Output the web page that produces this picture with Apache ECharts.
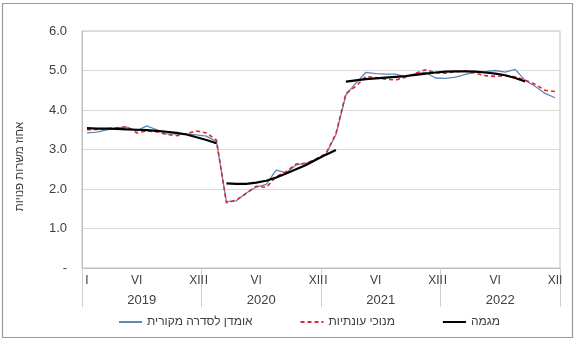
<!DOCTYPE html>
<html>
<head>
<meta charset="utf-8">
<script src="https://cdn.jsdelivr.net/npm/echarts@6/dist/echarts.min.js"></script>
<style>
  html, body { margin: 0; padding: 0; background: #ffffff; }
  #chart { width: 577px; height: 344px; }
</style>
</head>
<body>
<div id="chart"></div>
<script>
// Job vacancy rate, monthly 2019-2022
const years = ['2019', '2020', '2021', '2022'];
const months = ['I', 'II', 'III', 'IV', 'V', 'VI', 'VII', 'VIII', 'IX', 'X', 'XI', 'XII'];
const shownMonths = ['I', 'VI', 'XII'];
const yTicks = [0, 1, 2, 3, 4, 5, 6];

// Original series estimate
const original = [
  3.42, 3.44, 3.50, 3.55, 3.57, 3.47, 3.60, 3.50, 3.40, 3.39, 3.39, 3.37,
  3.34, 3.20, 1.68, 1.70, 1.90, 2.05, 2.12, 2.48, 2.41, 2.61, 2.65, 2.75,
  2.88, 3.38, 4.38, 4.68, 4.95, 4.92, 4.91, 4.91, 4.84, 4.92, 4.95, 4.81,
  4.80, 4.83, 4.90, 4.96, 4.97, 5.00, 4.96, 5.03, 4.75, 4.60, 4.42, 4.31
];

// Seasonally adjusted
const adjusted = [
  3.50, 3.51, 3.53, 3.55, 3.57, 3.42, 3.47, 3.45, 3.38, 3.35, 3.40, 3.47,
  3.42, 3.24, 1.65, 1.72, 1.89, 2.07, 2.04, 2.31, 2.44, 2.63, 2.65, 2.76,
  2.90, 3.40, 4.42, 4.60, 4.85, 4.82, 4.78, 4.76, 4.83, 4.93, 5.02, 4.94,
  4.93, 4.97, 4.99, 4.93, 4.87, 4.85, 4.87, 4.84, 4.76, 4.65, 4.50, 4.47
];

// Trend, drawn as separate segments
const trend = [
  3.54, 3.53, 3.53, 3.52, 3.51, 3.50, 3.49, 3.47, 3.45, 3.42, 3.38, 3.31,
  3.24, 3.16, 2.14, 2.13, 2.13, 2.16, 2.21, 2.29, 2.39, 2.50, 2.61, 2.74,
  2.87, 2.99, 4.72, 4.75, 4.78, 4.80, 4.82, 4.84, 4.86, 4.89, 4.92, 4.95,
  4.97, 4.98, 4.98, 4.97, 4.95, 4.92, 4.88, 4.81, 4.72, null, null, null
];
const trendSegments = [[0, 13], [14, 25], [26, 44]];

const names = ['אומדן לסדרה מקורית', 'מנוכי עונתיות', 'מגמה'];

const categories = [];
years.forEach(y => months.forEach(m => categories.push(m + '|' + y)));

const FONT = '"Liberation Sans", Arial, sans-serif';
const TEXT = '#404040';
const GRIDLINE = '#d9d9d9';

const trendSeries = trendSegments.map(([a, b]) => ({
  name: names[2],
  type: 'line',
  data: trend.map((v, i) => (i >= a && i <= b ? v : null)),
  showSymbol: false,
  symbol: 'none',
  connectNulls: false,
  lineStyle: { color: '#000000', width: 2.2 },
  itemStyle: { color: '#000000' },
  z: 4,
  silent: true
}));

const chart = echarts.init(document.getElementById('chart'), null, { renderer: 'canvas' });

chart.setOption({
  animation: false,
  backgroundColor: '#ffffff',
  textStyle: { fontFamily: FONT },
  grid: {
    left: 82, right: 17, top: 31, bottom: 76,
    show: true, borderColor: '#bfbfbf', borderWidth: 1
  },
  legend: {
    data: names,
    left: 118,
    top: 316,
    padding: 0,
    itemWidth: 23,
    itemHeight: 14,
    itemGap: 47,
    itemStyle: { opacity: 0 },
    textStyle: { fontFamily: FONT, fontSize: 12, color: TEXT },
    selectedMode: false
  },
  graphic: [{
    type: 'rect',
    shape: { x: 2.5, y: 3.5, width: 570, height: 334 },
    style: { fill: 'none', stroke: '#9a9a9a', lineWidth: 1.2 },
    silent: true,
    z: -1
  }],
  xAxis: [{
    type: 'category',
    data: categories,
    boundaryGap: true,
    axisLine: { show: true, lineStyle: { color: '#bfbfbf', width: 1 } },
    axisTick: { show: false },
    axisLabel: {
      interval: 0,
      margin: 7,
      fontFamily: FONT,
      fontSize: 12,
      color: TEXT,
      formatter: function (value) {
        const m = value.split('|')[0];
        return shownMonths.indexOf(m) >= 0 ? m : '';
      }
    },
    splitLine: { show: false }
  }, {
    type: 'category',
    data: years,
    position: 'bottom',
    boundaryGap: true,
    axisLine: { show: false },
    axisTick: { show: true, length: 39, lineStyle: { color: '#d0d0d0', width: 1 } },
    axisLabel: { margin: 26, fontFamily: FONT, fontSize: 13, color: TEXT },
    splitLine: { show: false }
  }],
  yAxis: {
    type: 'value',
    min: yTicks[0],
    max: yTicks[yTicks.length - 1],
    interval: 1,
    name: 'אחוז משרות פנויות',
    nameLocation: 'middle',
    nameGap: 56,
    nameTextStyle: { fontFamily: FONT, fontSize: 11.5, color: TEXT, padding: [0, 34, 0, 0] },
    axisLine: { show: true, lineStyle: { color: '#bfbfbf', width: 1 } },
    axisTick: { show: false },
    axisLabel: {
      margin: 15,
      fontFamily: FONT,
      fontSize: 13,
      color: TEXT,
      formatter: function (v) { return v === 0 ? '-' : v.toFixed(1); }
    },
    splitLine: { show: true, lineStyle: { color: GRIDLINE, width: 1 } }
  },
  series: [{
    name: names[0],
    type: 'line',
    data: original,
    showSymbol: false,
    symbol: 'none',
    lineStyle: { color: '#5f87bb', width: 1.3 },
    itemStyle: { color: '#5f87bb' },
    z: 2,
    silent: true
  }, {
    name: names[1],
    type: 'line',
    data: adjusted,
    showSymbol: false,
    symbol: 'none',
    lineStyle: { color: '#e3262a', width: 1.6, type: [4, 3] },
    itemStyle: { color: '#e3262a' },
    z: 3,
    silent: true
  }].concat(trendSeries)
});
</script>
</body>
</html>
